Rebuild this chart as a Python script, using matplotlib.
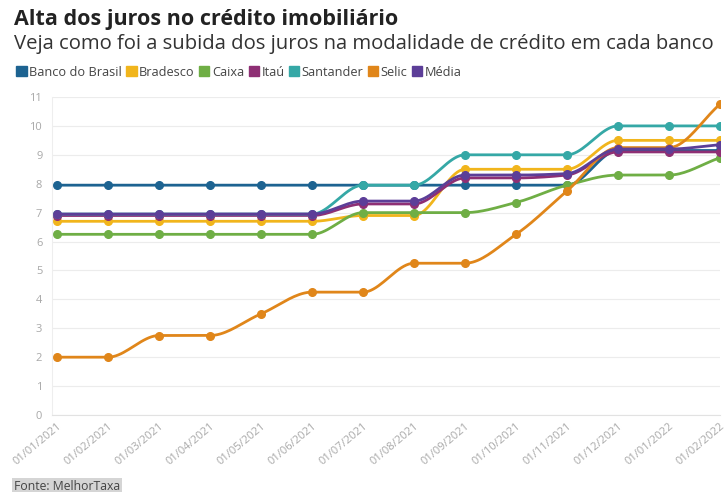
import numpy as np
import matplotlib
matplotlib.use("Agg")
import matplotlib.pyplot as plt

dates = ["01/01/2021", "01/02/2021", "01/03/2021", "01/04/2021", "01/05/2021",
         "01/06/2021", "01/07/2021", "01/08/2021", "01/09/2021", "01/10/2021",
         "01/11/2021", "01/12/2021", "01/01/2022", "01/02/2022"]

banco_do_brasil = [7.95, 7.95, 7.95, 7.95, 7.95, 7.95, 7.95, 7.95, 7.95, 7.95, 7.95, 9.15, 9.15, 9.15]
bradesco = [6.7, 6.7, 6.7, 6.7, 6.7, 6.7, 6.9, 6.9, 8.5, 8.5, 8.5, 9.5, 9.5, 9.5]
caixa = [6.25, 6.25, 6.25, 6.25, 6.25, 6.25, 7.0, 7.0, 7.0, 7.35, 7.95, 8.3, 8.3, 8.9]
itau = [6.9, 6.9, 6.9, 6.9, 6.9, 6.9, 7.3, 7.3, 8.2, 8.2, 8.3, 9.1, 9.1, 9.1]
santander = [6.95, 6.95, 6.95, 6.95, 6.95, 6.95, 7.95, 7.95, 9.0, 9.0, 9.0, 10.0, 10.0, 10.0]
selic = [2.0, 2.0, 2.75, 2.75, 3.5, 4.25, 4.25, 5.25, 5.25, 6.25, 7.75, 9.25, 9.25, 10.75]
media = [6.95, 6.95, 6.95, 6.95, 6.95, 6.95, 7.4, 7.4, 8.3, 8.3, 8.35, 9.2, 9.2, 9.35]

series = [
    ("Banco do Brasil", banco_do_brasil, "#1d6391"),
    ("Bradesco", bradesco, "#f1b51c"),
    ("Caixa", caixa, "#6fae45"),
    ("Itaú", itau, "#8e2f74"),
    ("Santander", santander, "#35a8a6"),
    ("Selic", selic, "#e0861a"),
    ("Média", media, "#5c3e98"),
]


def smooth(x, y, n=20):
    """monotone cubic (Fritsch-Carlson) between the points, only for drawing"""
    x = np.asarray(x, float)
    y = np.asarray(y, float)
    h = np.diff(x)
    d = np.diff(y) / h
    m = np.zeros_like(y)
    m[0], m[-1] = d[0], d[-1]
    for i in range(1, len(y) - 1):
        if d[i - 1] * d[i] > 0:
            m[i] = 2 / (1 / d[i - 1] + 1 / d[i])
    xs, ys = [], []
    for i in range(len(x) - 1):
        t = np.linspace(0, 1, n, endpoint=False)
        h00 = 2 * t**3 - 3 * t**2 + 1
        h10 = t**3 - 2 * t**2 + t
        h01 = -2 * t**3 + 3 * t**2
        h11 = t**3 - t**2
        xs.append(x[i] + t * h[i])
        ys.append(h00 * y[i] + h10 * h[i] * m[i] + h01 * y[i + 1] + h11 * h[i] * m[i + 1])
    xs.append([x[-1]])
    ys.append([y[-1]])
    return np.concatenate(xs), np.concatenate(ys)


plt.rcParams["font.family"] = ["Open Sans", "DejaVu Sans"]

fig = plt.figure(figsize=(7.27, 4.92), dpi=100)
ax = fig.add_axes([52 / 727, 77 / 492, 668 / 727, 318 / 492])

xi = np.arange(len(dates))
for name, vals, col in series:
    sx, sy = smooth(xi, vals)
    ax.plot(sx, sy, color=col, lw=2, solid_capstyle="round")
    ax.plot(xi, vals, "o", color=col, ms=5.5, label=name)

ax.set_xlim(-0.1, 13.0)
ax.set_ylim(0, 11)
ax.set_yticks(range(0, 12))
ax.set_xticks(xi)
ax.set_xticklabels(dates, rotation=40, ha="right", rotation_mode="anchor")
ax.tick_params(axis="both", colors="#a8a8a8", labelsize=8, length=0, pad=7)
ax.tick_params(axis="x", pad=4)
ax.grid(axis="y", color="#ececec", lw=0.8)
ax.set_axisbelow(True)
for s in ["top", "right"]:
    ax.spines[s].set_visible(False)
ax.spines["left"].set_color("#eeeeee")
ax.spines["bottom"].set_color("#e2e2e2")

fig.text(14 / 727, 1 - 19 / 492, "Alta dos juros no crédito imobiliário",
         fontsize=15.5, fontweight="bold", color="#222222", va="center")
fig.text(14 / 727, 1 - 44 / 492, "Veja como foi a subida dos juros na modalidade de crédito em cada banco",
         fontsize=14.6, color="#333333", va="center")

# legend: coloured squares + names
handles = [plt.Rectangle((0, 0), 1, 1, color=c) for _, _, c in series]
leg = fig.legend(handles, [n for n, _, _ in series], loc="center left",
                 bbox_to_anchor=(10 / 727, 1 - 72 / 492), ncol=7, frameon=False,
                 fontsize=9.2, handlelength=0.8, handleheight=0.9,
                 handletextpad=0.2, columnspacing=0.35, borderpad=0)
for t in leg.get_texts():
    t.set_color("#444444")

fig.text(14 / 727, 1 - 487 / 492, "Fonte: MelhorTaxa", fontsize=8.8, color="#444444",
         va="center", bbox=dict(facecolor="#d5d5d5", edgecolor="none", pad=1.5))

fig.savefig("out.png", dpi=100, facecolor="white")
